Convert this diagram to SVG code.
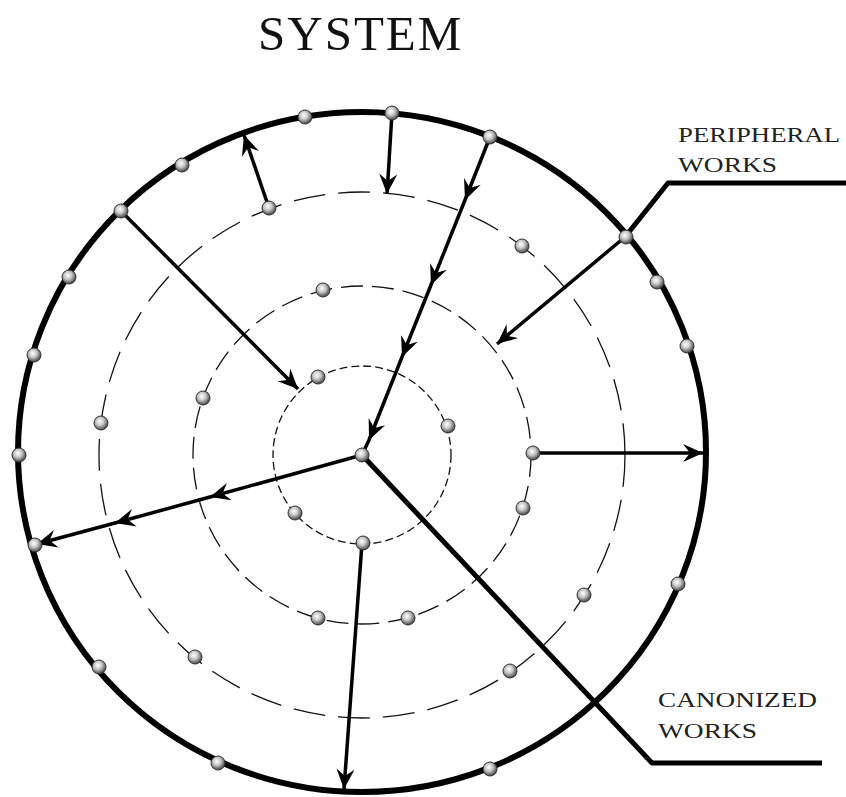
<svg xmlns="http://www.w3.org/2000/svg" width="846" height="797" viewBox="0 0 846 797">
<style>
.outer{fill:none;stroke:#000;stroke-width:6}
.dash{fill:none;stroke:#111;stroke-width:1.3}
.d3{stroke-dasharray:32 13}
.d2{stroke-dasharray:22 9}
.d1{stroke-dasharray:8 4}
.arr{fill:none;stroke:#000;stroke-width:3.5;stroke-linejoin:round}
.lead{fill:none;stroke:#000;stroke-width:5;stroke-linejoin:round}
.dot{fill:url(#sph);stroke:#333;stroke-width:1}
.title{font-family:"Liberation Serif",serif;font-size:49px;fill:#111;letter-spacing:2px}
.lbl{font-family:"Liberation Serif",serif;font-size:21px;fill:#222}
</style>
<defs>
<radialGradient id="sph" cx="0.42" cy="0.38" r="0.62">
<stop offset="0" stop-color="#fff"/>
<stop offset="0.45" stop-color="#c8c8c8"/>
<stop offset="1" stop-color="#444"/>
</radialGradient>
<marker id="ah" markerUnits="userSpaceOnUse" viewBox="-22 -10 24 20" refX="0" refY="0" markerWidth="24" markerHeight="20" orient="auto" overflow="visible">
<path d="M0,0 L-20,-9 L-13,0 L-20,9 Z" fill="#000"/>
</marker>
</defs>
<text class="title" x="258" y="50">SYSTEM</text>
<g id="rings">
<ellipse class="outer" cx="362" cy="452" rx="344" ry="340"/>
<circle class="dash d3" cx="362" cy="455" r="263"/>
<circle class="dash d2" cx="362" cy="455" r="169"/>
<circle class="dash d1" cx="362" cy="455" r="89"/>
</g>
<g id="connectors">
<polyline class="arr" points="121,211 298,389" marker-end="url(#ah)"/>
<polyline class="arr" points="269,208 244,135" marker-end="url(#ah)"/>
<polyline class="arr" points="392,113 387,194" marker-end="url(#ah)"/>
<polyline class="arr" points="490,137 465,200 431,285 402,357 369,440 362,455" marker-mid="url(#ah)"/>
<polyline class="arr" points="625,237 497,344" marker-end="url(#ah)"/>
<polyline class="arr" points="533,453 703,453" marker-end="url(#ah)"/>
<polyline class="arr" points="362,455 210,497 115,523 37,544" marker-mid="url(#ah)" marker-end="url(#ah)"/>
<polyline class="arr" points="362,543 344,789" marker-end="url(#ah)"/>
<polyline class="lead" points="846,183 668,183 625,237"/>
<polyline class="lead" points="362,455 652,763 822,763"/>
</g>
<g id="dots">
<circle class="dot" cx="305" cy="117" r="7"/>
<circle class="dot" cx="392" cy="113" r="7"/>
<circle class="dot" cx="490" cy="137" r="7"/>
<circle class="dot" cx="182" cy="165" r="7"/>
<circle class="dot" cx="121" cy="211" r="7"/>
<circle class="dot" cx="69" cy="277" r="7"/>
<circle class="dot" cx="34" cy="355" r="7"/>
<circle class="dot" cx="19" cy="455" r="7"/>
<circle class="dot" cx="35" cy="545" r="7"/>
<circle class="dot" cx="99" cy="667" r="7"/>
<circle class="dot" cx="218" cy="763" r="7"/>
<circle class="dot" cx="490" cy="769" r="7"/>
<circle class="dot" cx="678" cy="584" r="7"/>
<circle class="dot" cx="687" cy="346" r="7"/>
<circle class="dot" cx="657" cy="282" r="7"/>
<circle class="dot" cx="626" cy="237" r="7"/>
<circle class="dot" cx="269" cy="208" r="7"/>
<circle class="dot" cx="522" cy="246" r="7"/>
<circle class="dot" cx="101" cy="423" r="7"/>
<circle class="dot" cx="584" cy="595" r="7"/>
<circle class="dot" cx="510" cy="671" r="7"/>
<circle class="dot" cx="195" cy="657" r="7"/>
<circle class="dot" cx="323" cy="290" r="7"/>
<circle class="dot" cx="203" cy="398" r="7"/>
<circle class="dot" cx="533" cy="453" r="7"/>
<circle class="dot" cx="523" cy="508" r="7"/>
<circle class="dot" cx="318" cy="618" r="7"/>
<circle class="dot" cx="408" cy="618" r="7"/>
<circle class="dot" cx="318" cy="377" r="7"/>
<circle class="dot" cx="448" cy="426" r="7"/>
<circle class="dot" cx="295" cy="513" r="7"/>
<circle class="dot" cx="363" cy="543" r="7"/>
<circle class="dot" cx="362" cy="455" r="7"/>
</g>
<g id="peripheral">
<text class="lbl" x="678" y="142" textLength="162" lengthAdjust="spacingAndGlyphs">PERIPHERAL</text>
<text class="lbl" x="678" y="172" textLength="99" lengthAdjust="spacingAndGlyphs">WORKS</text>
</g>
<g id="canonized">
<text class="lbl" x="658" y="707" textLength="159" lengthAdjust="spacingAndGlyphs">CANONIZED</text>
<text class="lbl" x="658" y="738" textLength="99" lengthAdjust="spacingAndGlyphs">WORKS</text>
</g>
</svg>
